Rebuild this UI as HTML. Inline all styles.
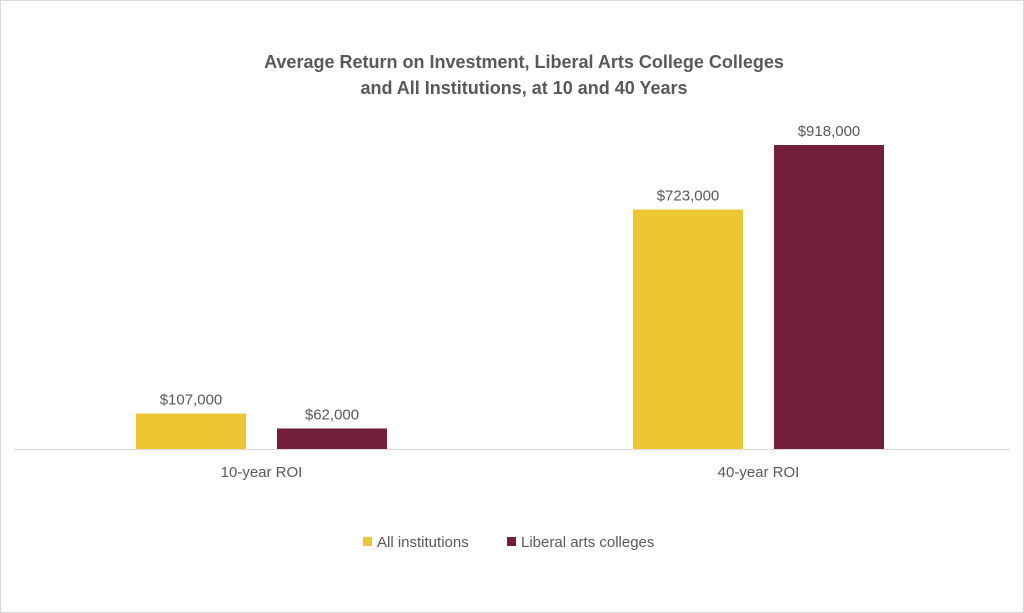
<!DOCTYPE html>
<html><head><meta charset="utf-8"><style>
html,body{margin:0;padding:0;background:#fff}
svg{display:block;font-family:"Liberation Sans",sans-serif}
</style></head><body>
<svg id="chart" width="1024" height="613" viewBox="0 0 1024 613">
<rect x="0.5" y="0.5" width="1023" height="612" fill="#fff" stroke="#d9d9d9"/>
<text x="524" y="68" text-anchor="middle" font-size="18" font-weight="bold" fill="#595959">Average Return on Investment, Liberal Arts College Colleges</text>
<text x="524" y="94" text-anchor="middle" font-size="18" font-weight="bold" fill="#595959">and All Institutions, at 10 and 40 Years</text>
<line x1="14" y1="449.5" x2="1010" y2="449.5" stroke="#d9d9d9"/>
<g id="bars"></g>
<g>
<rect x="363" y="537" width="9" height="9" fill="#ECC731"/>
<text x="377" y="547" font-size="15" fill="#595959">All institutions</text>
<rect x="507" y="537" width="9" height="9" fill="#731F3B"/>
<text x="521" y="547" font-size="15" fill="#595959">Liberal arts colleges</text>
</g>
</svg>
<script>
const categories = ["10-year ROI", "40-year ROI"];
const allInstitutions = [107000, 723000];
const liberalArts = [62000, 918000];
const valueLabels = [["$107,000","$62,000"],["$723,000","$918,000"]];
const seriesNames = ["all-institutions","liberal-arts-colleges"];
const colors = ["#ECC731","#731F3B"];
const NS="http://www.w3.org/2000/svg";
const g=document.getElementById("bars");
const base=449, k=304/918000;
const y=v=>base-v*k;
const groupX=[136,633], barW=110, gap=31;
const series=[allInstitutions, liberalArts];
categories.forEach((c,i)=>{
  series.forEach((s,j)=>{
    const x=groupX[i]+j*(barW+gap);
    const r=document.createElementNS(NS,"rect");
    
    
    r.setAttribute("x",x);r.setAttribute("y",y(s[i]));
    r.setAttribute("width",barW);r.setAttribute("height",base-y(s[i]));
    r.setAttribute("fill",colors[j]);g.appendChild(r);
    const t=document.createElementNS(NS,"text");
    
    
    t.setAttribute("x",x+barW/2);t.setAttribute("y",y(s[i])-9);
    t.setAttribute("text-anchor","middle");t.setAttribute("font-size","15");t.setAttribute("fill","#595959");
    t.textContent=valueLabels[i][j];g.appendChild(t);
  });
  const t=document.createElementNS(NS,"text");
  
  
  t.setAttribute("x",groupX[i]+barW+gap/2);t.setAttribute("y",477);
  t.setAttribute("text-anchor","middle");t.setAttribute("font-size","15");t.setAttribute("fill","#595959");
  t.textContent=c;g.appendChild(t);
});
</script>
</body></html>
